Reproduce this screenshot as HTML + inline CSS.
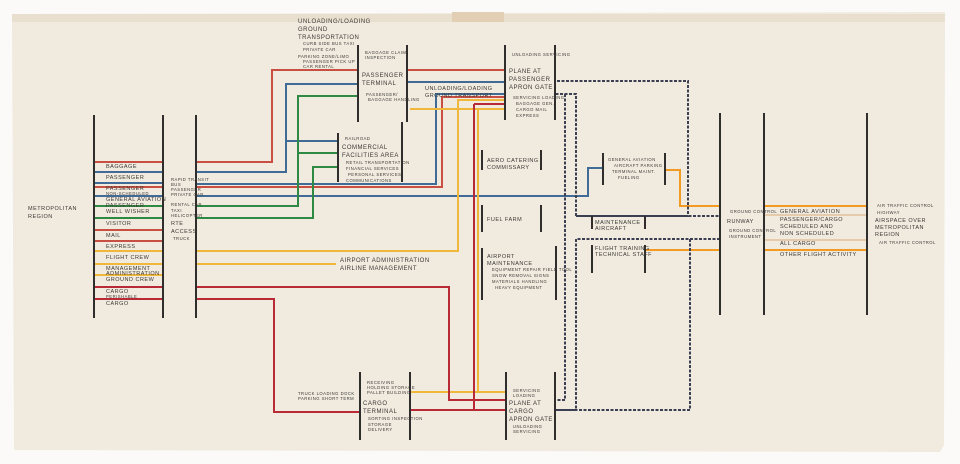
<!DOCTYPE html>
<html><head><meta charset="utf-8"><style>
html,body{margin:0;padding:0;background:#fbfaf8;}
svg{display:block}
text{font-family:"Liberation Sans",sans-serif;fill:#3c3a36;letter-spacing:0.5px}
.s{font-size:4.2px}.m{font-size:5.5px}.l{font-size:6px}
</style></head><body>
<svg width="960" height="464" viewBox="0 0 960 464" xmlns="http://www.w3.org/2000/svg">
<rect x="0" y="0" width="960" height="464" fill="#fbfaf8"/>
<polygon points="12,14 945,12 944,445 940,452 14,450" fill="#f0eadf"/>
<rect x="12" y="14" width="933" height="8" fill="#e9dfcf"/>
<rect x="452" y="12" width="52" height="10" fill="#e3cfb3"/>

<g fill="none" stroke-width="2">
<g stroke="#c94f43">
<path d="M94 162H163M94 187H163M94 230H163M94 241H163"/>
<path d="M196 162H272V70H358M407 70H505"/>
<path d="M196 187H442V97H505"/>
</g>
<g stroke="#416b97">
<path d="M94 172H163M94 183H163M94 196H163"/>
<path d="M196 172H286V84H358M286 141H338M407 82H505"/>
<path d="M196 184H436V94H505"/>
<path d="M196 196H588V168H603"/>
</g>
<g stroke="#2e8a42">
<path d="M94 206H163M94 218H163"/>
<path d="M196 206H298V96H358M298 153H338"/>
<path d="M196 218H313V167H338"/>
</g>
<g stroke="#f0b83a">
<path d="M94 251H163M94 264H163M94 275H163"/>
<path d="M196 251H458V100H505"/>
<path d="M196 264H336"/>
<path d="M410 109H505M478 109V392M410 392H506"/>
</g>
<g stroke="#b82a35">
<path d="M94 287H163M94 299H163"/>
<path d="M196 287H449V400H506"/>
<path d="M196 299H274V412H360"/>
<path d="M474 104H505M474 104V410M410 410H506"/>
</g>
<g stroke="#f39a22">
<path d="M665 170H680V206H720M645 250H720M764 206H867M764 250H867"/>
</g>
<g stroke="#e2bf9c" stroke-width="1.5"><path d="M764 215H867M764 240H867"/></g>
</g>

<g fill="none" stroke="#3b3f52" stroke-width="2" stroke-dasharray="3,1.5">
<path d="M557 81H688V216H576V94H555"/>
<path d="M565 94V400H555"/>
<path d="M576 216H720M720 239H576V400"/>
<path d="M576 239V410H555M690 239V410H555"/>
</g>

<g stroke="#2f2e2c" stroke-width="2">
<path d="M94 115V318M163 115V318M196 115V318"/>
<path d="M358 45V122M407 45V122M505 45V120M555 45V120"/>
<path d="M338 133V182M402 122V182"/>
<path d="M482 150V170M541 150V170M482 205V232M541 205V232M482 248V300M556 246V300"/>
<path d="M360 372V440M410 372V440M506 372V440M555 372V440"/>
<path d="M603 153V185M665 153V185M592 216V229M645 216V229M592 245V273M645 245V273"/>
<path d="M720 113V315M764 113V315M867 113V315"/>
</g>

<text class="l" x="298" y="23">UNLOADING/LOADING</text>
<text class="l" x="298" y="31">GROUND</text>
<text class="l" x="298" y="39">TRANSPORTATION</text>
<text class="s" x="303" y="45">CURB SIDE BUS TAXI</text>
<text class="s" x="303" y="51">PRIVATE CAR</text>
<text class="s" x="298" y="58">PARKING ZONE/LIMO</text>
<text class="s" x="303" y="63">PASSENGER PICK UP</text>
<text class="s" x="303" y="68">CAR RENTAL</text>
<text class="s" x="365" y="54">BAGGAGE CLAIM</text>
<text class="s" x="365" y="59">INSPECTION</text>
<text class="l" x="362" y="77">PASSENGER</text>
<text class="l" x="362" y="85">TERMINAL</text>
<text class="s" x="366" y="96">PASSENGER/</text>
<text class="s" x="368" y="101">BAGGAGE HANDLING</text>
<text class="m" x="425" y="90">UNLOADING/LOADING</text>
<text class="m" x="425" y="97">GROUND TRANSPORT</text>
<text class="s" x="512" y="56">UNLOADING SERVICING</text>
<text class="l" x="509" y="73">PLANE AT</text>
<text class="l" x="509" y="81">PASSENGER</text>
<text class="l" x="509" y="89">APRON GATE</text>
<text class="s" x="513" y="99">SERVICING LOADING</text>
<text class="s" x="516" y="105">BAGGAGE GEN.</text>
<text class="s" x="516" y="111">CARGO MAIL</text>
<text class="s" x="516" y="117">EXPRESS</text>
<text class="s" x="345" y="140">RAILROAD</text>
<text class="l" x="342" y="149">COMMERCIAL</text>
<text class="l" x="342" y="157">FACILITIES AREA</text>
<text class="s" x="346" y="164">RETAIL TRANSPORTATION</text>
<text class="s" x="346" y="170">FINANCIAL SERVICES</text>
<text class="s" x="348" y="176">PERSONAL SERVICES</text>
<text class="s" x="346" y="182">COMMUNICATIONS</text>
<text class="m" x="487" y="162">AERO CATERING</text>
<text class="m" x="487" y="169">COMMISSARY</text>
<text class="m" x="487" y="221">FUEL FARM</text>
<text class="m" x="487" y="258">AIRPORT</text>
<text class="m" x="487" y="265">MAINTENANCE</text>
<text class="s" x="492" y="271">EQUIPMENT REPAIR FIELD TOOL</text>
<text class="s" x="492" y="277">SNOW REMOVAL SIGNS</text>
<text class="s" x="492" y="283">MATERIALS HANDLING</text>
<text class="s" x="495" y="289">HEAVY EQUIPMENT</text>
<text class="l" x="340" y="262">AIRPORT ADMINISTRATION</text>
<text class="l" x="340" y="270">AIRLINE MANAGEMENT</text>
<text class="s" x="608" y="161">GENERAL AVIATION</text>
<text class="s" x="614" y="167">AIRCRAFT PARKING</text>
<text class="s" x="612" y="173">TERMINAL MAINT.</text>
<text class="s" x="618" y="179">FUELING</text>
<text class="m" x="595" y="224">MAINTENANCE</text>
<text class="m" x="595" y="230">AIRCRAFT</text>
<text class="m" x="595" y="250">FLIGHT TRAINING</text>
<text class="m" x="595" y="256">TECHNICAL STAFF</text>
<text class="s" x="730" y="213">GROUND CONTROL</text>
<text class="m" x="727" y="223">RUNWAY</text>
<text class="s" x="729" y="232">GROUND CONTROL</text>
<text class="s" x="729" y="238">INSTRUMENT</text>
<text class="m" x="780" y="213">GENERAL AVIATION</text>
<text class="m" x="780" y="221">PASSENGER/CARGO</text>
<text class="m" x="780" y="228">SCHEDULED AND</text>
<text class="m" x="780" y="235">NON SCHEDULED</text>
<text class="m" x="780" y="245">ALL CARGO</text>
<text class="m" x="780" y="256">OTHER FLIGHT ACTIVITY</text>
<text class="s" x="877" y="207">AIR TRAFFIC CONTROL</text>
<text class="s" x="877" y="214">HIGHWAY</text>
<text class="m" x="875" y="222">AIRSPACE OVER</text>
<text class="m" x="875" y="229">METROPOLITAN</text>
<text class="m" x="875" y="236">REGION</text>
<text class="s" x="879" y="244">AIR TRAFFIC CONTROL</text>
<text class="m" x="28" y="210">METROPOLITAN</text>
<text class="m" x="28" y="218">REGION</text>
<text class="m" x="106" y="168">BAGGAGE</text>
<text class="m" x="106" y="179">PASSENGER</text>
<text class="m" x="106" y="190">PASSENGER</text>
<text class="s" x="106" y="195">NON-SCHEDULED</text>
<text class="m" x="106" y="201">GENERAL AVIATION</text>
<text class="m" x="106" y="207">PASSENGER</text>
<text class="m" x="106" y="213">WELL WISHER</text>
<text class="m" x="106" y="225">VISITOR</text>
<text class="m" x="106" y="237">MAIL</text>
<text class="m" x="106" y="248">EXPRESS</text>
<text class="m" x="106" y="259">FLIGHT CREW</text>
<text class="m" x="106" y="270">MANAGEMENT</text>
<text class="m" x="106" y="275">ADMINISTRATION</text>
<text class="m" x="106" y="281">GROUND CREW</text>
<text class="m" x="106" y="293">CARGO</text>
<text class="s" x="106" y="298">PERISHABLE</text>
<text class="m" x="106" y="305">CARGO</text>
<text class="s" x="171" y="181">RAPID TRANSIT</text>
<text class="s" x="171" y="186">BUS</text>
<text class="s" x="171" y="191">PASSENGER</text>
<text class="s" x="171" y="196">PRIVATE CAR</text>
<text class="s" x="171" y="206">RENTAL CAR</text>
<text class="s" x="171" y="212">TAXI</text>
<text class="s" x="171" y="217">HELICOPTER</text>
<text class="m" x="171" y="225">RTE</text>
<text class="m" x="171" y="233">ACCESS</text>
<text class="s" x="173" y="240">TRUCK</text>
<text class="s" x="298" y="395">TRUCK LOADING DOCK</text>
<text class="s" x="298" y="400">PARKING SHORT TERM</text>
<text class="s" x="367" y="384">RECEIVING</text>
<text class="s" x="367" y="389">HOLDING STORAGE</text>
<text class="s" x="367" y="394">PALLET BUILDING</text>
<text class="l" x="363" y="405">CARGO</text>
<text class="l" x="363" y="413">TERMINAL</text>
<text class="s" x="368" y="420">SORTING INSPECTION</text>
<text class="s" x="368" y="426">STORAGE</text>
<text class="s" x="368" y="431">DELIVERY</text>
<text class="s" x="513" y="392">SERVICING</text>
<text class="s" x="513" y="397">LOADING</text>
<text class="l" x="509" y="405">PLANE AT</text>
<text class="l" x="509" y="413">CARGO</text>
<text class="l" x="509" y="421">APRON GATE</text>
<text class="s" x="513" y="428">UNLOADING</text>
<text class="s" x="513" y="433">SERVICING</text>
</svg>
</body></html>
